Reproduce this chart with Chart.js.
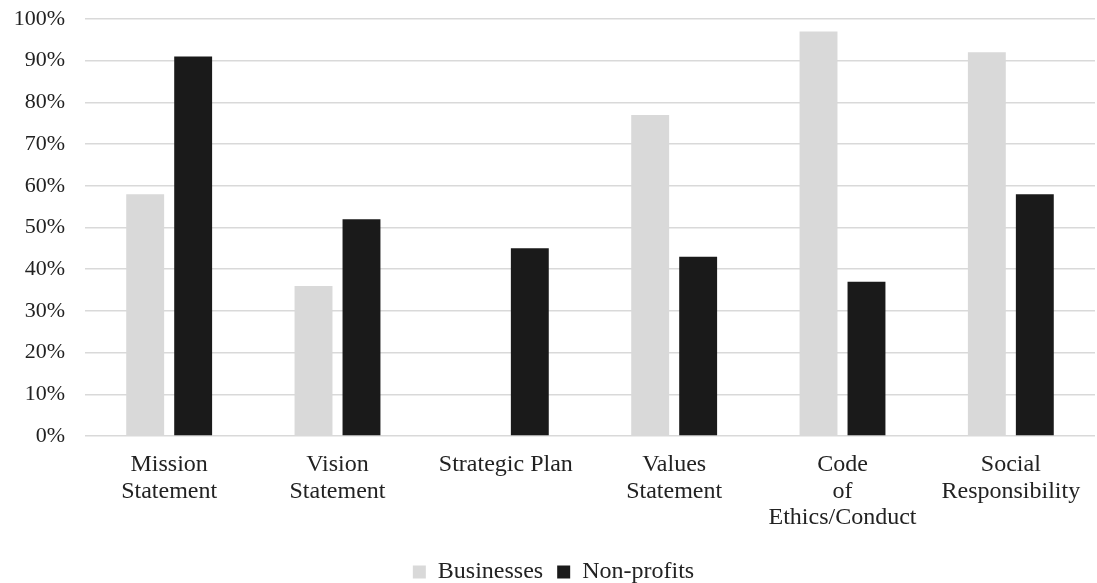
<!DOCTYPE html>
<html>
<head>
<meta charset="utf-8">
<script src="https://cdn.jsdelivr.net/npm/chart.js@4"></script>
<style>
  html, body { margin: 0; padding: 0; background: #fff; }
  #wrap { width: 1097px; height: 583px; }
</style>
</head>
<body>
<div id="wrap"><canvas id="chart"></canvas></div>
<script>
const categories = [
    ['Mission', 'Statement'],
    ['Vision', 'Statement'],
    'Strategic Plan',
    ['Values', 'Statement'],
    ['Code', 'of', 'Ethics/Conduct'],
    ['Social', 'Responsibility']
];
const businesses = [58, 36, 0, 77, 97, 92];
const nonProfits = [91, 52, 45, 43, 37, 58];
const yTicks = [0, 10, 20, 30, 40, 50, 60, 70, 80, 90, 100];

Chart.defaults.font.family = "'Liberation Serif', 'Times New Roman', serif";
Chart.defaults.color = '#222';

new Chart(document.getElementById('chart'), {
    type: 'bar',
    data: {
        labels: categories,
        datasets: [
            { label: 'Businesses', data: businesses, backgroundColor: '#d9d9d9' },
            { label: 'Non-profits', data: nonProfits, backgroundColor: '#1a1a1a' }
        ]
    },
    options: {
        responsive: true, maintainAspectRatio: false,
        animation: false,
        categoryPercentage: 0.57,
        barPercentage: 0.79,
        layout: { padding: { left: 12, right: 2, top: 19, bottom: -11 } },
        scales: {
            x: {
                grid: { display: false },
                border: { display: false },
                ticks: { font: { size: 24, lineHeight: 1.12 }, padding: 7, maxRotation: 0, autoSkip: false },
                afterFit: axis => { axis.height = 110; }
            },
            y: {
                min: 0, max: 100,
                afterBuildTicks: axis => { axis.ticks = yTicks.map(v => ({ value: v })); },
                grid: { color: '#d9d9d9', lineWidth: 1.5, drawTicks: false },
                border: { display: false },
                ticks: { font: { size: 22 }, padding: 20, callback: v => v + '%' },
                afterFit: axis => {
                    axis.width = 73;
                    axis.paddingTop = 0;
                    axis.paddingBottom = 0;
                }
            }
        },
        plugins: {
            legend: {
                position: 'bottom',
                labels: { font: { size: 24 }, boxWidth: 13, boxHeight: 13, padding: 14, color: '#222' }
            },
            tooltip: { enabled: false }
        }
    }
});
</script>
</body>
</html>
